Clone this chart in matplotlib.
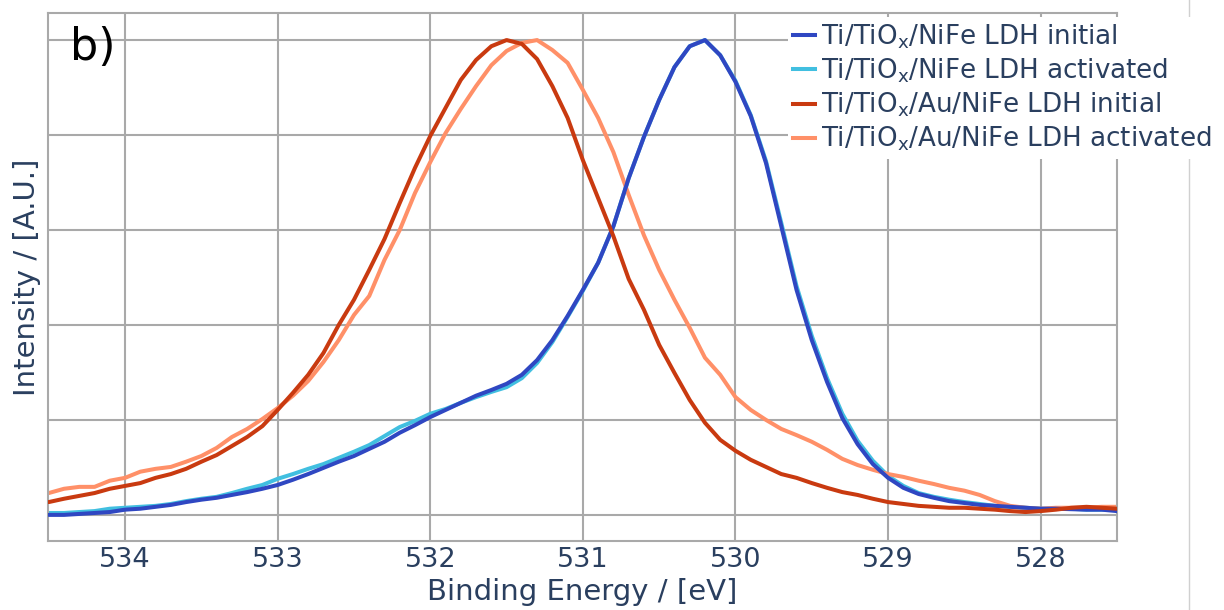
import matplotlib
matplotlib.use("Agg")
import matplotlib.pyplot as plt
from matplotlib.lines import Line2D

energy = [534.5, 534.4, 534.3, 534.2, 534.1, 534.0, 533.9, 533.8, 533.7, 533.6,
          533.5, 533.4, 533.3, 533.2, 533.1, 533.0, 532.9, 532.8, 532.7, 532.6,
          532.5, 532.4, 532.3, 532.2, 532.1, 532.0, 531.9, 531.8, 531.7, 531.6,
          531.5, 531.4, 531.3, 531.2, 531.1, 531.0, 530.9, 530.8, 530.7, 530.6,
          530.5, 530.4, 530.3, 530.2, 530.1, 530.0, 529.9, 529.8, 529.7, 529.6,
          529.5, 529.4, 529.3, 529.2, 529.1, 529.0, 528.9, 528.8, 528.7, 528.6,
          528.5, 528.4, 528.3, 528.2, 528.1, 528.0, 527.9, 527.8, 527.7, 527.6,
          527.5]

nife_initial = [0.0, 0.0, 0.2, 0.4, 0.6, 1.1, 1.3, 1.7, 2.1, 2.7,
                3.2, 3.6, 4.2, 4.8, 5.5, 6.3, 7.4, 8.6, 9.9, 11.2,
                12.4, 13.9, 15.4, 17.3, 18.9, 20.6, 22.1, 23.6, 25.1, 26.3,
                27.6, 29.5, 32.6, 36.8, 41.9, 47.4, 53.1, 60.8, 70.9, 79.6,
                87.4, 94.3, 98.7, 100.0, 96.8, 91.2, 84.0, 74.1, 60.8, 47.4,
                36.8, 28.0, 20.4, 14.9, 10.7, 7.8, 5.7, 4.4, 3.6, 2.9,
                2.5, 2.1, 1.9, 1.7, 1.5, 1.3, 1.3, 1.2, 1.1, 1.1,
                0.8]

nife_activated = [0.4, 0.4, 0.6, 0.8, 1.3, 1.5, 1.7, 1.9, 2.3, 2.9,
                  3.4, 3.8, 4.6, 5.5, 6.3, 7.6, 8.6, 9.7, 10.7, 12.0,
                  13.3, 14.7, 16.6, 18.5, 19.8, 21.3, 22.3, 23.6, 24.8, 25.9,
                  26.9, 28.8, 32.0, 36.4, 41.7, 47.2, 53.1, 60.8, 70.9, 79.6,
                  87.4, 94.3, 98.7, 100.0, 96.8, 91.4, 84.2, 74.5, 61.5, 48.2,
                  37.7, 28.8, 21.3, 15.6, 11.4, 8.2, 6.1, 4.6, 3.8, 3.2,
                  2.7, 2.3, 1.9, 1.7, 1.5, 1.3, 1.3, 1.3, 1.1, 1.1,
                  1.1]

au_initial = [2.7, 3.4, 4.0, 4.6, 5.5, 6.1, 6.7, 7.8, 8.6, 9.7,
              11.2, 12.6, 14.5, 16.4, 18.7, 22.1, 25.7, 29.5, 34.1, 40.0,
              45.3, 51.6, 58.1, 65.7, 73.1, 79.8, 85.7, 91.6, 95.8, 98.7,
              100.0, 99.2, 96.0, 90.3, 83.6, 74.7, 66.7, 58.7, 49.7, 43.2,
              35.8, 29.9, 24.2, 19.4, 15.8, 13.5, 11.6, 10.1, 8.6, 7.8,
              6.7, 5.7, 4.8, 4.2, 3.4, 2.7, 2.3, 1.9, 1.7, 1.5,
              1.5, 1.3, 1.1, 0.8, 0.6, 0.8, 1.1, 1.5, 1.7, 1.5,
              1.3]

au_activated = [4.6, 5.5, 5.9, 5.9, 7.2, 7.8, 9.1, 9.7, 10.1, 11.2,
                12.4, 14.1, 16.4, 18.1, 20.2, 22.5, 25.1, 28.2, 32.2, 36.8,
                42.1, 46.1, 53.7, 60.0, 67.8, 74.3, 80.4, 85.5, 90.3, 94.7,
                97.7, 99.4, 100.0, 97.9, 95.2, 89.5, 83.6, 76.4, 67.4, 58.9,
                51.6, 45.3, 39.4, 33.1, 29.5, 24.8, 22.1, 20.0, 18.1, 16.8,
                15.4, 13.7, 11.8, 10.5, 9.5, 8.6, 8.0, 7.2, 6.5, 5.7,
                5.1, 4.2, 2.9, 1.9, 1.5, 1.3, 1.5, 1.5, 1.5, 1.7,
                1.7]

series_labels = ["Ti/TiO$_\\mathregular{x}$/NiFe LDH initial",
                 "Ti/TiO$_\\mathregular{x}$/NiFe LDH activated",
                 "Ti/TiO$_\\mathregular{x}$/Au/NiFe LDH initial",
                 "Ti/TiO$_\\mathregular{x}$/Au/NiFe LDH activated"]
series_colors = ["#2f47c2", "#41bfe0", "#c93a10", "#ff9068"]
x_ticks = [534, 533, 532, 531, 530, 529, 528]
y_ticks = [0, 20, 40, 60, 80, 100]

text_color = "#2a3f5f"
grid_color = "#a9a9a9"

plt.rcParams['font.family'] = ['DejaVu Sans']
plt.rcParams['mathtext.fontset'] = 'dejavusans'

fig = plt.figure(figsize=(12.24, 6.10), dpi=100)
ax = fig.add_axes([48/1224, 69/610, (1117-48)/1224, (541-13)/610])

data = [nife_activated, nife_initial, au_activated, au_initial]
order = [1, 0, 3, 2]
zs = [2, 3, 2.5, 4]
for idx, d, z in zip(order, data, zs):
    ax.plot(energy, d, color=series_colors[idx], lw=2.9, zorder=z,
            solid_joinstyle='round', solid_capstyle='round')

ax.set_xlim(534.505, 527.5)
ax.set_ylim(-5.5, 105.7)
ax.set_xticks(x_ticks)
ax.set_xticklabels([str(t) for t in x_ticks])
ax.set_yticks(y_ticks)
ax.set_yticklabels([])
ax.grid(True, color=grid_color, lw=1.5, zorder=0)
ax.set_axisbelow(True)
for s in ax.spines.values():
    s.set_color(grid_color)
    s.set_linewidth(1.5)
ax.tick_params(axis='both', length=0, labelsize=19.5, colors=text_color, pad=4)
ax.set_xlabel("Binding Energy / [eV]", fontsize=21, color=text_color, labelpad=4)
ax.set_ylabel("Intensity / [A.U.]", fontsize=21, color=text_color)
ax.yaxis.set_label_coords(-(48-41)/1069, 0.5)

ax.text((70-48)/1069, 1 - (60-13)/528, "b)", transform=ax.transAxes, fontsize=32,
        color="black", ha="left", va="baseline")

handles = [Line2D([0], [0], color=c, lw=2.9) for c in series_colors]
leg = fig.legend(handles, series_labels, loc="upper left",
                 bbox_to_anchor=(788/1224, 1 - 17/610), frameon=True,
                 fontsize=18.8, handlelength=0.85, handletextpad=0.2,
                 labelspacing=0.22, borderpad=0.2, borderaxespad=0)
leg.get_frame().set_facecolor("white")
leg.get_frame().set_edgecolor("none")
leg.get_frame().set_alpha(1)
leg.set_zorder(10)
for t in leg.get_texts():
    t.set_color(text_color)

fig.add_artist(Line2D([1189/1224, 1189/1224], [0, 1], color="#d0d0d0", lw=1,
                      transform=fig.transFigure))

fig.savefig("out.png", dpi=100)
